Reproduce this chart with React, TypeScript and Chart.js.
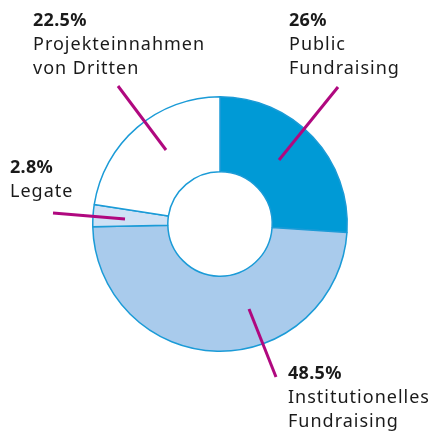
import React, { useEffect, useRef } from "react";
import { Chart, registerables } from "chart.js";

Chart.register(...registerables);

const categories: string[][] = [
  ["Public", "Fundraising"],
  ["Institutionelles", "Fundraising"],
  ["Legate"],
  ["Projekteinnahmen", "von Dritten"],
];
const shares: number[] = [26, 48.5, 2.8, 22.5];
const fills: string[] = ["#009ad6", "#a9cbec", "#cfe1f5", "#ffffff"];

// annotation layout (relative to the doughnut centre): text anchor and leader line
const labelLayout = [
  { tx: 69, ty: -198, from: [59, -64], to: [118, -137] },
  { tx: 68, ty: 155, from: [29, 85], to: [56, 153] },
  { tx: -210, ty: -51, from: [-95, -5], to: [-167, -11] },
  { tx: -187, ty: -198, from: [-54, -74], to: [-102, -138] },
];

const labelPlugin = {
  id: "labelPlugin",
  afterDraw(chart: any) {
    const meta = chart.getDatasetMeta(0);
    const arc = meta.data[0];
    if (!arc) return;
    const cx = arc.x;
    const cy = arc.y;
    const ctx = chart.ctx;
    ctx.save();
    labelLayout.forEach((l, i) => {
      ctx.strokeStyle = "#b0087f";
      ctx.lineWidth = 3;
      ctx.lineCap = "butt";
      ctx.beginPath();
      ctx.moveTo(cx + l.from[0], cy + l.from[1]);
      ctx.lineTo(cx + l.to[0], cy + l.to[1]);
      ctx.stroke();

      ctx.fillStyle = "#1a1a1a";
      ctx.textBaseline = "alphabetic";
      ctx.textAlign = "left";
      ctx.letterSpacing = "0.3px";
      ctx.font = "bold 18px 'Noto Sans'";
      ctx.fillText(`${shares[i]}%`, cx + l.tx, cy + l.ty);
      ctx.letterSpacing = "1px";
      ctx.font = "18px 'Noto Sans'";
      categories[i].forEach((line, j) => {
        ctx.fillText(line, cx + l.tx, cy + l.ty + 24 * (j + 1));
      });
    });
    ctx.restore();
  },
};

export default function App() {
  const ref = useRef<HTMLCanvasElement>(null);
  useEffect(() => {
    if (!ref.current) return;
    const chart = new Chart(ref.current, {
      type: "doughnut",
      data: {
        labels: categories.map((c) => c.join(" ")),
        datasets: [
          {
            data: shares,
            backgroundColor: fills,
            borderColor: "#1b9bd7",
            borderWidth: 1.5,
          },
        ],
      },
      options: {
        animation: false,
        responsive: false,
        cutout: "41%",
        layout: { padding: { left: 92, right: 82, top: 96, bottom: 81 } },
        plugins: { legend: { display: false }, tooltip: { enabled: false } },
      },
      plugins: [labelPlugin],
    });
    return () => chart.destroy();
  }, []);
  return (
    <div style={{ position: "absolute", left: 0, top: 0, width: 430, height: 433, background: "#fff" }}>
      <canvas ref={ref} width={430} height={433} />
    </div>
  );
}
